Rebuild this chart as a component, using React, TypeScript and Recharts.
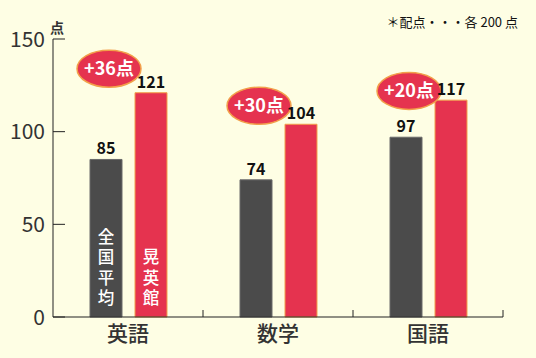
import { Bar, ComposedChart, LabelList, Scatter, XAxis, YAxis } from "recharts";

const subjects = ["英語", "数学", "国語"];
const nationalAvg = [85, 74, 97];
const kouei = [121, 104, 117];
// height (in points) where the "+xx点" badge sits
const badgeLevel = [134, 114, 122];
const yTicks = [0, 50, 100, 150];
const avgName = "全国平均";
const schoolName = "晃英館";
const unitLabel = "点";
const noteText = "＊配点・・・各 200 点";

const FONT = "'Noto Sans CJK JP', 'Noto Sans', sans-serif";
const W = 536;
const H = 358;
const MARGIN = { top: 39, right: 33, left: 0, bottom: 0 };
const Y_W = 53;
const HALF_BAND = (W - MARGIN.right - Y_W) / subjects.length / 2;

const data = subjects.map((s, i) => ({
    subject: s,
    avg: nationalAvg[i],
    kouei: kouei[i],
    badge: badgeLevel[i],
    diff: kouei[i] - nationalAvg[i],
    avgName: i === 0 ? avgName : "",
    schoolName: i === 0 ? schoolName : "",
}));

const YTick = (props: any) => {
    const { x, y, payload } = props;
    return (
        <g>
            <line x1={x + 8} x2={x + 20} y1={y} y2={y} stroke="#222" />
            <text x={x} y={y} dy={7.5} textAnchor="end" fontSize={21} fill="#333" fontFamily={FONT}>
                {payload.value}
            </text>
        </g>
    );
};

const XTick = (props: any) => {
    const { x, y, payload } = props;
    return (
        <g>
            <line x1={x + HALF_BAND} x2={x + HALF_BAND} y1={y - 8} y2={y - 15} stroke="#222" />
            <text x={x} y={y} dy={16} textAnchor="middle" fontSize={21} fill="#333" fontWeight={500} fontFamily={FONT}>
                {payload.value}
            </text>
        </g>
    );
};

// stacked vertical text inside the first pair of bars
const VerticalText = (props: any) => {
    const { x, y, width, height, value } = props;
    if (!value) return null;
    const n = String(value).length;
    const pitch = 20.5;
    const top = y + height - 9 - n * pitch + 2;
    return (
        <text
            x={x + width / 2}
            y={top}
            textAnchor="start"
            fontSize={16.5}
            fontWeight={500}
            fill="#fff"
            fontFamily={FONT}
            style={{ writingMode: "vertical-rl", letterSpacing: pitch - 16.5 }}
        >
            {value}
        </text>
    );
};

const Badge = (props: any) => {
    const { cx, cy, payload } = props;
    const bx = cx - 19;
    return (
        <g>
            <ellipse cx={bx} cy={cy} rx={32} ry={18.5} fill="#E5334F" stroke="#F2A04A" strokeWidth={1.5} />
            <text x={bx} y={cy} dy={6.5} textAnchor="middle" fontSize={18} fontWeight={700} fill="#fff" fontFamily={FONT}>
                +{payload.diff}点
            </text>
        </g>
    );
};

export default function App() {
    return (
        <div style={{ position: "absolute", left: 0, top: 0, width: W, height: H, background: "#FEFEE4", fontFamily: FONT }}>
            <ComposedChart width={W} height={H} data={data} margin={MARGIN} barSize={32} barGap={13}>
                <XAxis
                    dataKey="subject"
                    height={41}
                    tickLine={false}
                    axisLine={{ stroke: "#222" }}
                    tick={<XTick />}
                    interval={0}
                />
                <YAxis
                    width={Y_W}
                    domain={[0, 150]}
                    ticks={yTicks}
                    tickLine={false}
                    axisLine={{ stroke: "#222" }}
                    tick={<YTick />}
                    interval={0}
                />
                <Bar dataKey="avg" fill="#4B4B4B" stroke="#6a6a6a" isAnimationActive={false}>
                    <LabelList dataKey="avg" position="top" offset={5} fontSize={16} fontWeight={700} fill="#111" fontFamily={FONT} />
                    <LabelList dataKey="avgName" content={<VerticalText />} />
                </Bar>
                <Bar dataKey="kouei" fill="#E5334F" stroke="#F2A04A" isAnimationActive={false}>
                    <LabelList dataKey="kouei" position="top" offset={5} fontSize={16} fontWeight={700} fill="#111" fontFamily={FONT} />
                    <LabelList dataKey="schoolName" content={<VerticalText />} />
                </Bar>
                <Scatter dataKey="badge" shape={<Badge />} isAnimationActive={false} />
            </ComposedChart>
            <div style={{ position: "absolute", left: 50, top: 19, fontSize: 14, fontWeight: 700, color: "#333", lineHeight: "16px" }}>
                {unitLabel}
            </div>
            <div style={{ position: "absolute", right: 18, top: 14, fontSize: 13, color: "#111", lineHeight: "16px" }}>
                {noteText}
            </div>
        </div>
    );
}
